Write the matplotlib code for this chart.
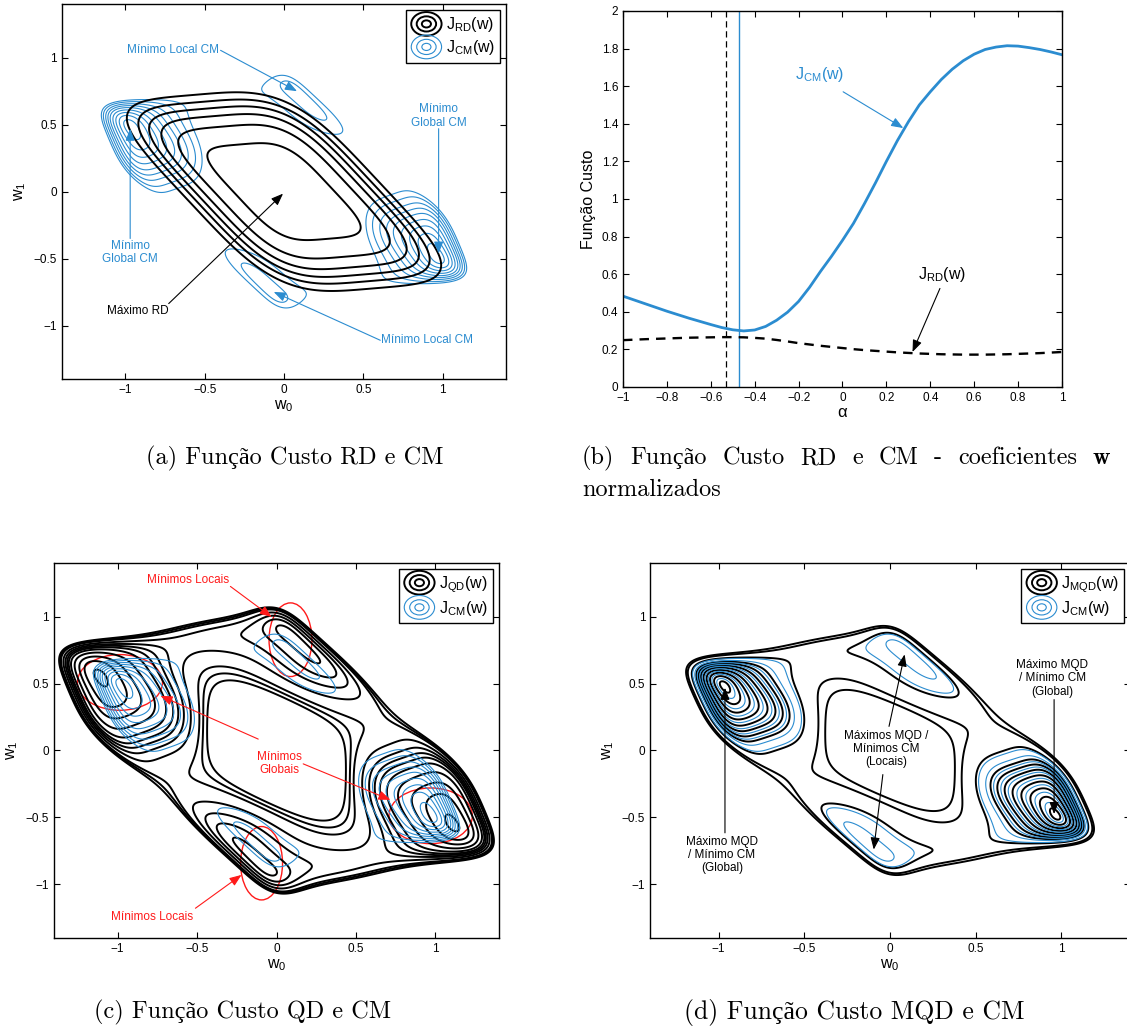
import numpy as np
import matplotlib
matplotlib.use('Agg')
import matplotlib.pyplot as plt
from matplotlib.patches import Ellipse
from matplotlib.lines import Line2D
from matplotlib.legend_handler import HandlerBase
from matplotlib.ticker import FuncFormatter

plt.rcParams['font.family'] = ['Liberation Sans', 'DejaVu Sans']
plt.rcParams['mathtext.fontset'] = 'cm'
plt.rcParams['xtick.direction'] = 'in'
plt.rcParams['ytick.direction'] = 'in'
plt.rcParams['xtick.top'] = True
plt.rcParams['ytick.right'] = True
plt.rcParams['xtick.major.size'] = 4
plt.rcParams['ytick.major.size'] = 4
plt.rcParams['axes.linewidth'] = 1.0

BLUE = '#2b8cd0'
RED = '#ff1a1a'
CAPTION_FONT = ['cmr10', 'Liberation Serif']
BOLD_FONT = ['cmb10', 'DejaVu Serif']

# combined response (channel * equaliser) for the two taps w0, w1
response = [[0.961, -0.013], [0.542, 0.997], [0.031, 0.502]]
symbols = [-1.0, 1.0]
dispersion = 1.0      # modulus constant
order = 4             # order of the dispersion moment
qd_spread = 1.15      # the QD surface is the same shape, stretched

# RD surface: rounded parallelogram (near-horizontal and sheared edges)
rd_edges = [0.32, 0.38]
rd_slope = 0.79
rd_tilt = 0.1
rd_power = 4

rd_levels = [1.0, 1.38, 1.6, 1.76, 1.9, 2.05]
cm_levels = [0.46, 0.50, 0.54, 0.58, 0.62, 0.655, 0.69, 0.728, 0.762]
qd_levels = [0.45, 0.52, 0.58, 0.64, 0.69, 0.722, 0.745, 0.77, 0.80, 0.835, 0.85, 0.865]
mqd_levels = [0.445, 0.48, 0.52, 0.56, 0.60, 0.637, 0.672, 0.705, 0.775, 0.838, 0.866]

# cost along the normalised direction alpha
alpha = [-1.0, -0.9, -0.8, -0.7, -0.6, -0.55, -0.5, -0.45, -0.4, -0.35, -0.3,
         -0.25, -0.2, -0.15, -0.1, -0.05, 0.0, 0.05, 0.1, 0.15, 0.2, 0.25, 0.3,
         0.35, 0.4, 0.45, 0.5, 0.55, 0.6, 0.65, 0.7, 0.75, 0.8, 0.85, 0.9, 0.95, 1.0]
j_cm = [0.483, 0.443, 0.403, 0.366, 0.332, 0.316, 0.304, 0.298, 0.303, 0.322, 0.355,
        0.398, 0.455, 0.53, 0.615, 0.695, 0.78, 0.87, 0.975, 1.085, 1.2, 1.31, 1.41,
        1.5, 1.57, 1.635, 1.69, 1.735, 1.77, 1.795, 1.808, 1.815, 1.813, 1.805, 1.795,
        1.782, 1.767]
j_rd = [0.249, 0.254, 0.258, 0.262, 0.264, 0.265, 0.265, 0.264, 0.261, 0.257, 0.25,
        0.242, 0.233, 0.226, 0.219, 0.213, 0.207, 0.201, 0.196, 0.192, 0.188, 0.184,
        0.181, 0.178, 0.176, 0.174, 0.173, 0.172, 0.172, 0.172, 0.173, 0.174, 0.176,
        0.178, 0.18, 0.183, 0.186]
alpha_rd_max = -0.53
alpha_cm_min = -0.47

w_ticks = [-1, -0.5, 0, 0.5, 1]
w_ticklabels = ['\u22121', '\u22120.5', '0', '0.5', '1']
alpha_ticks = [-1, -0.8, -0.6, -0.4, -0.2, 0, 0.2, 0.4, 0.6, 0.8, 1]
cost_ticks = [0, 0.2, 0.4, 0.6, 0.8, 1, 1.2, 1.4, 1.6, 1.8, 2]


def dispersion_cost(w0, w1, stretch=1.0):
    u0, u1 = w0 / stretch, w1 / stretch
    taps = [row[0] * u0 + row[1] * u1 for row in response]
    total = np.zeros_like(w0)
    for a0 in symbols:
        for a1 in symbols:
            for a2 in symbols:
                y = a0 * taps[0] + a1 * taps[1] + a2 * taps[2]
                total += np.abs(y ** 2 - dispersion) ** order
    return (total / len(symbols) ** 3) ** (1.0 / order) / dispersion


def rd_norm(w0, w1):
    u = (w1 - rd_tilt * w0) / rd_edges[1]
    v = (w0 + rd_slope * w1) / rd_edges[0]
    return (np.abs(u) ** rd_power + np.abs(v) ** rd_power) ** (1.0 / rd_power)


grid = np.linspace(-1.5, 1.5, 601)
W0, W1 = np.meshgrid(grid, grid)
Z_cm = dispersion_cost(W0, W1)
Z_qd = dispersion_cost(W0, W1, qd_spread)
Z_rd = rd_norm(W0, W1)


class RingHandler(HandlerBase):
    def create_artists(self, legend, orig_handle, xdescent, ydescent,
                       width, height, fontsize, trans):
        cx = 0.5 * width - xdescent
        cy = 0.5 * height - ydescent
        rings = []
        for frac in (1.0, 0.64, 0.3):
            rings.append(Ellipse((cx, cy), width * frac, height * 1.45 * frac,
                                 fill=False, edgecolor=orig_handle.get_color(),
                                 linewidth=orig_handle.get_linewidth(),
                                 transform=trans))
        return rings


def add_legend(ax, name):
    handles = [Line2D([], [], color='k', lw=1.4), Line2D([], [], color=BLUE, lw=0.8)]
    labels = [r'$\mathregular{J_{%s}(w)}$' % name, r'$\mathregular{J_{CM}(w)}$']
    leg = ax.legend(handles, labels, handler_map={Line2D: RingHandler()},
                    loc='upper right', fontsize=11.5, frameon=True, fancybox=False,
                    edgecolor='k', framealpha=1, borderaxespad=0.35, borderpad=0.35,
                    handlelength=1.9, handleheight=1.2, handletextpad=0.25,
                    labelspacing=0.25)
    leg.get_frame().set_linewidth(1.0)


def contour_axes(rect):
    ax = fig.add_axes(rect)
    ax.set_xlim(-1.4, 1.4)
    ax.set_ylim(-1.4, 1.4)
    ax.set_xticks(w_ticks, w_ticklabels)
    ax.set_yticks(w_ticks, w_ticklabels)
    ax.tick_params(labelsize=8.5)
    ax.set_xlabel(r'$\mathregular{w_0}$', fontsize=11.5, labelpad=2)
    ax.set_ylabel(r'$\mathregular{w_1}$', fontsize=11.5, labelpad=4)
    return ax


def arrow(ax, start, tip, color):
    ax.annotate('', xy=tip, xytext=start,
                arrowprops=dict(arrowstyle='-|>,head_length=0.9,head_width=0.35',
                                color=color, lw=0.8, shrinkA=0, shrinkB=0,
                                mutation_scale=8))


def justified_line(words, x_left, x_right, y, size):
    # spread the words over the full caption width, like a justified line
    renderer = fig.canvas.get_renderer()
    parts = []
    for word in words:
        family = BOLD_FONT if word == 'w' else CAPTION_FONT
        parts.append(fig.text(0, y, word, family=family, fontsize=size,
                              ha='left', va='baseline'))
    widths = [t.get_window_extent(renderer=renderer).width for t in parts]
    fig_w = fig.bbox.width
    gap = ((x_right - x_left) * fig_w - sum(widths)) / (len(parts) - 1)
    x = x_left * fig_w
    for t, wd in zip(parts, widths):
        t.set_x(x / fig_w)
        x += wd + gap


fig = plt.figure(figsize=(11.27, 10.33), dpi=100)

# (a) RD and CM
ax = contour_axes([0.055, 0.633, 0.394, 0.363])
ax.contour(W0, W1, Z_cm, levels=cm_levels, colors=BLUE, linewidths=0.8)
ax.contour(W0, W1, Z_rd, levels=rd_levels, colors='k', linewidths=1.4)
add_legend(ax, 'RD')
ax.text(-0.41, 1.055, 'Mínimo Local CM', color=BLUE, fontsize=8.5, ha='right', va='center')
arrow(ax, (-0.40, 1.055), (0.082, 0.75), BLUE)
ax.text(0.975, 0.565, 'Mínimo\nGlobal CM', color=BLUE, fontsize=8.5, ha='center',
        va='center', linespacing=1.15)
arrow(ax, (0.975, 0.47), (0.975, -0.463), BLUE)
ax.text(-0.97, -0.455, 'Mínimo\nGlobal CM', color=BLUE, fontsize=8.5, ha='center',
        va='center', linespacing=1.15)
arrow(ax, (-0.97, -0.35), (-0.97, 0.47), BLUE)
ax.text(0.61, -1.11, 'Mínimo Local CM', color=BLUE, fontsize=8.5, ha='left', va='center')
arrow(ax, (0.607, -1.11), (-0.065, -0.749), BLUE)
ax.text(-0.725, -0.89, 'Máximo RD', color='k', fontsize=8.5, ha='right', va='center')
arrow(ax, (-0.727, -0.836), (-0.006, -0.015), 'k')

# (b) cost along alpha
ax = fig.add_axes([0.5528, 0.6254, 0.3895, 0.364])
ax.axvline(alpha_rd_max, color='k', lw=0.9, ls=(0, (5, 3)))
ax.axvline(alpha_cm_min, color=BLUE, lw=1.0)
ax.plot(alpha, j_cm, color=BLUE, lw=2.0)
ax.plot(alpha, j_rd, color='k', lw=1.7, ls=(0, (4, 3)))
ax.set_xlim(-1, 1)
ax.set_ylim(0, 2)
ax.set_xticks(alpha_ticks)
ax.set_yticks(cost_ticks)
minus_fmt = FuncFormatter(lambda v, pos: ('%g' % v).replace('-', '\u2212'))
ax.xaxis.set_major_formatter(minus_fmt)
ax.yaxis.set_major_formatter(minus_fmt)
ax.tick_params(labelsize=8.5)
ax.set_xlabel('α', fontsize=12, labelpad=1)
ax.set_ylabel('Função Custo', fontsize=11.5)
ax.text(-0.215, 1.66, r'$\mathregular{J_{CM}(w)}$', color=BLUE, fontsize=11.5,
        ha='left', va='center')
arrow(ax, (0.003, 1.57), (0.277, 1.377), BLUE)
ax.text(0.345, 0.6, r'$\mathregular{J_{RD}(w)}$', color='k', fontsize=11.5,
        ha='left', va='center')
arrow(ax, (0.444, 0.524), (0.319, 0.186), 'k')

# (c) QD and CM
ax = contour_axes([0.0479, 0.092, 0.3949, 0.363])
ax.contour(W0, W1, Z_qd, levels=qd_levels, colors='k', linewidths=1.4)
ax.contour(W0, W1, Z_cm, levels=cm_levels, colors=BLUE, linewidths=0.8)
add_legend(ax, 'QD')
ring_centres = [(0.088, 0.827), (-0.094, -0.842), (-0.985, 0.508), (0.97, -0.488)]
ring_sizes = [(0.27, 0.55), (0.264, 0.548), (0.535, 0.416), (0.524, 0.416)]
for centre, (wd, ht) in zip(ring_centres, ring_sizes):
    ax.add_patch(Ellipse(centre, wd, ht, fill=False, edgecolor=RED, lw=1.0))
ax.text(-0.555, 1.27, 'Mínimos Locais', color=RED, fontsize=8.5, ha='center', va='center')
arrow(ax, (-0.29, 1.225), (-0.03, 0.996), RED)
ax.text(-0.78, -1.24, 'Mínimos Locais', color=RED, fontsize=8.5, ha='center', va='center')
arrow(ax, (-0.51, -1.178), (-0.22, -0.929), RED)
ax.text(0.02, -0.095, 'Mínimos\nGlobais', color=RED, fontsize=8.5, ha='center',
        va='center', linespacing=1.15)
arrow(ax, (-0.115, 0.085), (-0.73, 0.408), RED)
arrow(ax, (0.168, -0.1), (0.717, -0.369), RED)

# (d) MQD and CM
ax = contour_axes([0.5768, 0.092, 0.4259, 0.363])
ax.contour(W0, W1, Z_cm, levels=mqd_levels, colors='k', linewidths=1.4)
ax.contour(W0, W1, Z_cm, levels=cm_levels, colors=BLUE, linewidths=0.8)
add_legend(ax, 'MQD')
ax.text(-0.98, -0.78, 'Máximo MQD\n/ Mínimo CM\n(Global)', color='k', fontsize=8.5,
        ha='center', va='center', linespacing=1.15)
arrow(ax, (-0.963, -0.615), (-0.963, 0.468), 'k')
ax.text(0.946, 0.54, 'Máximo MQD\n/ Mínimo CM\n(Global)', color='k', fontsize=8.5,
        ha='center', va='center', linespacing=1.15)
arrow(ax, (0.957, 0.38), (0.957, -0.475), 'k')
ax.text(-0.02, 0.01, 'Máximos MQD /\nMínimos CM\n(Locais)', color='k', fontsize=8.5,
        ha='center', va='center', linespacing=1.15)
arrow(ax, (-0.006, 0.18), (0.085, 0.7175), 'k')
arrow(ax, (-0.042, -0.18), (-0.095, -0.74), 'k')

# captions
fig.text(0.2613, 0.5505, '(a) Função Custo RD e CM', family=CAPTION_FONT,
         fontsize=17.5, ha='center', va='baseline')
justified_line(['(b)', 'Função', 'Custo', 'RD', 'e', 'CM', '-', 'coeficientes', 'w'],
               0.5164, 0.9849, 0.5505, 17.5)
fig.text(0.5164, 0.5195, 'normalizados', family=CAPTION_FONT, fontsize=17.5,
         ha='left', va='baseline')
fig.text(0.2150, 0.0138, '(c) Função Custo QD e CM', family=CAPTION_FONT,
         fontsize=17.5, ha='center', va='baseline')
fig.text(0.7578, 0.0138, '(d) Função Custo MQD e CM', family=CAPTION_FONT,
         fontsize=18.5, ha='center', va='baseline')

fig.savefig('out.png', dpi=100)
